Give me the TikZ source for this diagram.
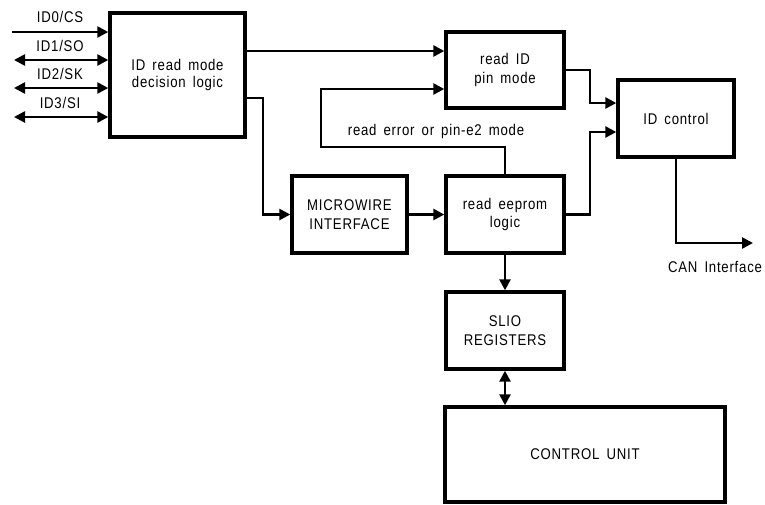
\documentclass[tikz,border=0pt]{standalone}
\usepackage{fontspec}
\setmainfont{Liberation Sans}[FakeStretch=0.85,LetterSpace=5,WordSpace=1.6]
\usetikzlibrary{arrows.meta}
\begin{document}
\begin{tikzpicture}[x=1pt,y=-1pt,
  font=\fontsize{15.5}{18.5}\selectfont,
  box/.style={draw,line width=3.4pt,align=center,inner sep=0pt},
  wire/.style={line width=2.5pt},
  sig/.style={wire,-{Triangle[length=11pt,width=11pt]}},
  bisig/.style={wire,{Triangle[length=11pt,width=11pt]}-{Triangle[length=11pt,width=11pt]}},
  lbl/.style={inner sep=0pt}]
\useasboundingbox (0,0) rectangle (765,504);

% functional blocks
\node[box,minimum width=135,minimum height=124,font=\fontsize{15.5}{17}\selectfont] (idr) at (177.5,75) {ID read mode\\decision logic};
\node[box,minimum width=118,minimum height=76]  (rid)  at (505,70)    {read ID\\pin mode};
\node[box,minimum width=116,minimum height=77]  (idc)  at (676,118.5) {ID control};
\node[box,minimum width=115,minimum height=77]  (mw)   at (349.5,214.5) {MICROWIRE\\INTERFACE};
\node[box,minimum width=118,minimum height=77]  (ree)  at (505,214.5) {read eeprom\\logic};
\node[box,minimum width=118,minimum height=77]  (slio) at (505,330.5) {SLIO\\REGISTERS};
\node[box,minimum width=280,minimum height=95]  (cu)   at (585,454.5) {CONTROL UNIT};

% ID pins
\coordinate (p0) at (12,32);
\coordinate (p1) at (14,60);
\coordinate (p2) at (14,88);
\coordinate (p3) at (14,117);
\draw[sig]   (p0) -- (p0 -| idr.west);
\draw[bisig] (p1) -- (p1 -| idr.west);
\draw[bisig] (p2) -- (p2 -| idr.west);
\draw[bisig] (p3) -- (p3 -| idr.west);
\node[lbl] (l0) at (60,17)  {ID0/CS};
\node[lbl] (l1) at (60,46)  {ID1/SO};
\node[lbl] (l2) at (60,74)  {ID2/SK};
\node[lbl] (l3) at (60,103) {ID3/SI};

% data paths
\draw[sig] (idr.east |- 0,51) -- (rid.west |- 0,51);
\draw[sig] (idr.east |- 0,98) -- (263,98) |- (mw.west);
\draw[sig] (mw.east) -- (ree.west);
\draw[sig] (ree.north) |- (321,147) |- (rid.west |- 0,89);
\node[lbl] (err) at (436,131) {read error or pin-e2 mode};
\draw[sig] (rid.east) -- (590,70) |- (idc.west |- 0,103);
\draw[sig] (ree.east) -- (590,214.5) |- (idc.west |- 0,132);
\coordinate (can) at (753,243);
\draw[sig] (idc.south) |- (can);
\node[lbl] (canl) at (715,267) {CAN Interface};
\draw[sig] (ree.south) -- (slio.north);
\draw[bisig] (slio.south) -- (cu.north -| slio.south);
\end{tikzpicture}
\end{document}
